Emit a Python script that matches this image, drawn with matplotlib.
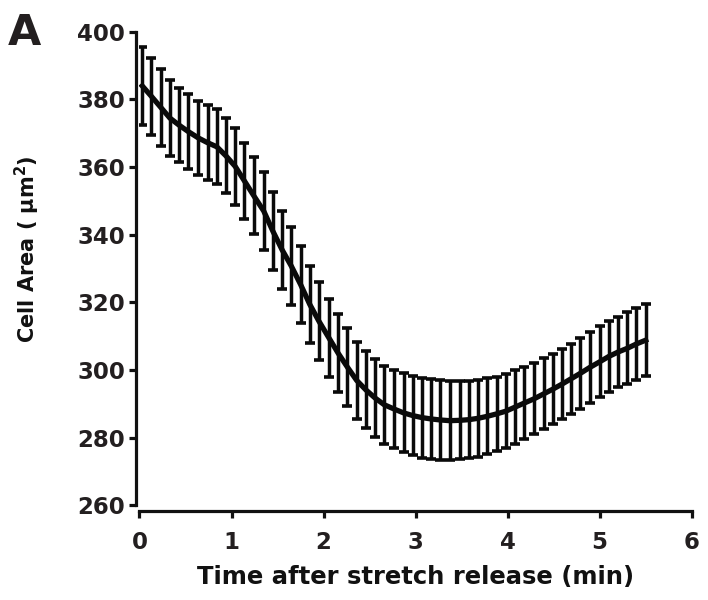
import matplotlib as mpl
import matplotlib.pyplot as plt

mpl.use("Agg")

# Frames roughly every 6 s after stretch release (minutes).
time_min = [
    0.03, 0.13, 0.23, 0.33, 0.43, 0.53, 0.64, 0.74, 0.84, 0.94,
    1.04, 1.14, 1.24, 1.35, 1.45, 1.55, 1.65, 1.75, 1.85, 1.95,
    2.06, 2.16, 2.26, 2.36, 2.46, 2.56, 2.66, 2.77, 2.87, 2.97,
    3.07, 3.17, 3.27, 3.37, 3.48, 3.58, 3.68, 3.78, 3.88, 3.98,
    4.08, 4.18, 4.29, 4.39, 4.49, 4.59, 4.69, 4.79, 4.89, 5.00,
    5.10, 5.20, 5.30, 5.40, 5.50,
]
cell_area = [
    384.0, 380.9, 377.7, 374.5, 372.4, 370.5, 368.6, 367.2, 366.0, 363.3,
    360.2, 355.9, 351.6, 347.0, 341.0, 335.5, 330.7, 325.3, 319.4, 314.4,
    309.4, 304.9, 300.8, 296.9, 294.1, 291.7, 289.7, 288.4, 287.3, 286.5,
    285.9, 285.5, 285.2, 285.0, 285.1, 285.3, 285.7, 286.3, 287.0, 287.8,
    289.0, 290.2, 291.5, 292.9, 294.3, 295.8, 297.4, 299.0, 300.7, 302.4,
    304.0, 305.3, 306.4, 307.7, 308.8,
]
area_sem = [
    11.6, 11.4, 11.4, 11.2, 11.0, 11.1, 11.0, 11.1, 11.1, 11.1,
    11.3, 11.3, 11.4, 11.5, 11.5, 11.6, 11.5, 11.3, 11.4, 11.5,
    11.6, 11.5, 11.5, 11.4, 11.4, 11.5, 11.5, 11.6, 11.7, 11.7,
    11.8, 11.8, 11.8, 11.6, 11.5, 11.4, 11.3, 11.2, 11.0, 11.0,
    10.9, 10.7, 10.5, 10.5, 10.4, 10.4, 10.4, 10.5, 10.5, 10.5,
    10.5, 10.4, 10.6, 10.6, 10.6,
]
x_ticks = [0, 1, 2, 3, 4, 5, 6]
y_ticks = [260, 280, 300, 320, 340, 360, 380, 400]

plt.rcParams["font.family"] = ["DejaVu Sans"]
plt.rcParams["font.weight"] = "bold"
plt.rcParams["mathtext.default"] = "regular"

fig = plt.figure(figsize=(7.08, 6.0), dpi=100)
ax = fig.add_axes([0.197, 0.158, 0.780, 0.789])

ax.errorbar(
    time_min, cell_area, yerr=area_sem,
    color="#0a0a0a", lw=3.8, elinewidth=2.5, capsize=3.6, capthick=2.6, zorder=3,
)

ax.set_xlim(0, 6)
ax.set_ylim(260, 400)
ax.set_xticks(x_ticks)
ax.set_yticks(y_ticks)

# Prism-style open axes, x spine pushed slightly down.
for spine in ["top", "right"]:
    ax.spines[spine].set_visible(False)
ax.spines["bottom"].set_position(("outward", 4))
ax.spines["left"].set_position(("outward", 2.5))
for spine in ["bottom", "left"]:
    ax.spines[spine].set_linewidth(2.3)
    ax.spines[spine].set_color("#111111")
ax.tick_params(axis="both", length=5, width=2.3, color="#111111",
               labelsize=16.5, labelcolor="#231f20")
ax.tick_params(axis="x", pad=9.5)
ax.tick_params(axis="y", pad=3)

ax.set_xlabel("Time after stretch release (min)", fontsize=17.5, fontweight="bold",
              color="#111111", labelpad=8)
ax.set_ylabel(r"Cell Area ( $\mu$m$^{\bf 2}$)", fontsize=15, fontweight="bold",
              color="#111111")
ax.yaxis.set_label_coords(-0.176, 0.54)

fig.text(0.011, 0.925, "A", fontsize=31, fontweight="bold", color="#231f20")

fig.savefig("out.png", dpi=100)
plt.close(fig)
